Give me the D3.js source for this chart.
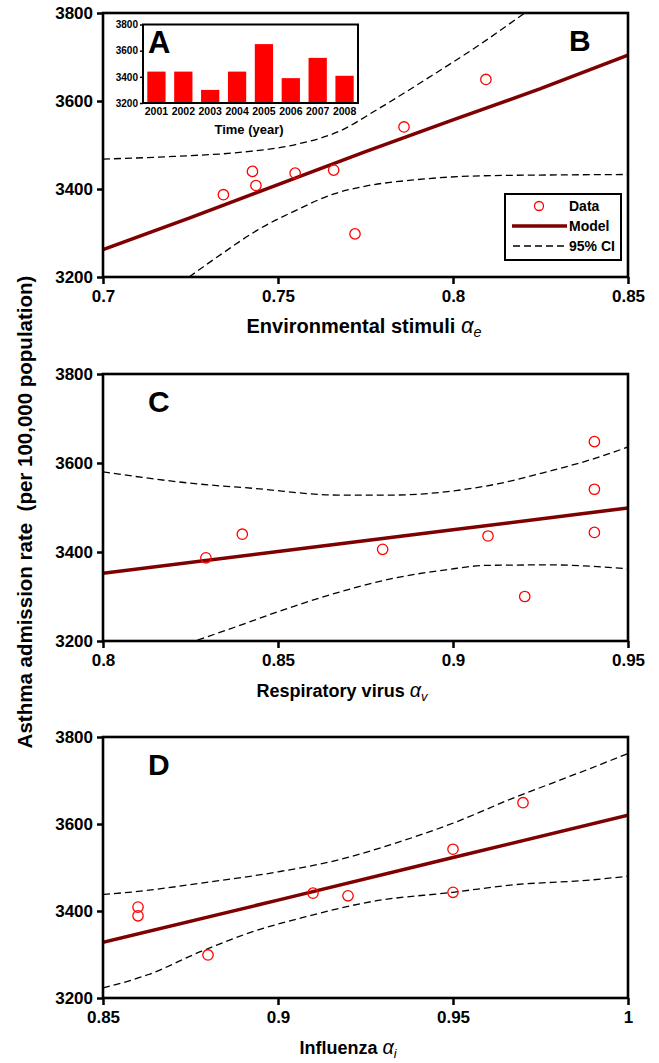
<!DOCTYPE html>
<html><head><meta charset="utf-8">
<script src="https://cdn.jsdelivr.net/npm/d3@7/dist/d3.min.js"></script>
<style>
body{margin:0;background:#fff;}
text{font-family:"Liberation Sans",Arial,Helvetica,sans-serif;font-weight:bold;fill:#000;}
</style></head>
<body><svg id="chart" width="659" height="1063"></svg>
<script>
// ---------- DATA ----------
const insetYears = ["2001","2002","2003","2004","2005","2006","2007","2008"];
const insetRates = [3440,3440,3300,3440,3650,3390,3545,3408];
const insetTicks = [3200,3400,3600,3800];
const yTicks = [3200,3400,3600,3800];

// Panel B: environmental stimuli
const envTicks = [0.7,0.75,0.8,0.85];
const envTickLabels = ["0.7","0.75","0.8","0.85"];
const envDataX = [0.7344,0.7427,0.7437,0.7549,0.7659,0.772,0.786,0.8094];
const envDataY = [3387,3440,3408,3436,3443,3298,3541,3649];
const envModelX = [0.70,0.725,0.75,0.775,0.80,0.825,0.85];
const envModelY = [3262,3335,3410,3485,3557,3628,3704];
const envUpX = [0.70,0.72,0.74,0.755,0.768,0.778,0.794,0.808,0.82,0.822];
const envUpY = [3468,3474,3484,3501,3533,3579,3658,3730,3797,3808];
const envLoX = [0.7246,0.734,0.744,0.755,0.766,0.776,0.788,0.808,0.83,0.85];
const envLoY = [3200,3253,3306,3351,3389,3408,3420,3430,3432,3433];

// Panel C: respiratory virus
const virTicks = [0.8,0.85,0.9,0.95];
const virTickLabels = ["0.8","0.85","0.9","0.95"];
const virDataX = [0.8294,0.8398,0.8799,0.91,0.9205,0.9404,0.9404,0.9404];
const virDataY = [3387,3440,3406,3436,3300,3648,3541,3444];
const virModelX = [0.80,0.85,0.90,0.95];
const virModelY = [3352,3401,3450,3499];
const virUpX = [0.80,0.827,0.843,0.867,0.883,0.9008,0.9127,0.9277,0.9396,0.95];
const virUpY = [3580,3553,3543,3528,3528,3538,3553,3582,3608,3636];
const virLoX = [0.827,0.838,0.853,0.868,0.883,0.898,0.9097,0.9277,0.9396,0.95];
const virLoY = [3202,3232,3274,3311,3341,3360,3370,3371,3368,3362];

// Panel D: influenza
const fluTicks = [0.85,0.9,0.95,1.0];
const fluTickLabels = ["0.85","0.9","0.95","1"];
const fluDataX = [0.86,0.86,0.88,0.91,0.92,0.95,0.95,0.97];
const fluDataY = [3409,3389,3299,3441,3435,3542,3443,3649];
const fluModelX = [0.85,0.90,0.95,1.0];
const fluModelY = [3328,3425,3523,3620];
const fluUpX = [0.85,0.86,0.878,0.90,0.917,0.932,0.951,0.967,0.978,0.989,1.0];
const fluUpY = [3438,3445,3464,3490,3517,3552,3605,3659,3693,3727,3762];
const fluLoX = [0.85,0.863,0.878,0.893,0.908,0.927,0.95,0.967,0.989,1.0];
const fluLoY = [3223,3254,3307,3353,3387,3422,3443,3460,3471,3480];

// ---------- DRAW ----------
const svg = d3.select("#chart");
const X0 = 103, X1 = 628;
const DARKRED = "#7f0000";

function zip(xs, ys){ return xs.map((x,i)=>[x, ys[i]]); }

function panel(cfg){
  const x = d3.scaleLinear().domain(cfg.xDomain).range([X0, X1]);
  const y = d3.scaleLinear().domain([3200,3800]).range([cfg.bottom, cfg.top]);
  const g = svg.append("g");
  const clipId = "clip" + cfg.letter;
  g.append("clipPath").attr("id", clipId).append("rect")
    .attr("x", X0).attr("y", cfg.top).attr("width", X1-X0).attr("height", cfg.bottom-cfg.top);
  const plot = g.append("g").attr("clip-path", `url(#${clipId})`);
  const line = d3.line().x(d=>x(d[0])).y(d=>y(d[1])).curve(d3.curveMonotoneX);
  [cfg.up, cfg.lo].forEach(pts=>{
    plot.append("path").attr("d", line(pts)).attr("fill","none")
      .attr("stroke","#000").attr("stroke-width",1.3).attr("stroke-dasharray","7,4");
  });
  plot.append("path").attr("d", d3.line().x(d=>x(d[0])).y(d=>y(d[1]))(cfg.model)).attr("fill","none")
    .attr("stroke",DARKRED).attr("stroke-width",3.5);
  g.selectAll("circle.pt").data(cfg.data).join("circle").attr("class","pt")
    .attr("cx",d=>x(d[0])).attr("cy",d=>y(d[1])).attr("r",5.2)
    .attr("fill","none").attr("stroke","#ff0000").attr("stroke-width",1.3);

  // axes
  const ya = d3.axisLeft(y).tickValues(yTicks).tickSize(6).tickPadding(4).tickFormat(d3.format("d"));
  const yg = g.append("g").attr("transform",`translate(${X0},0)`).call(ya);
  const xa = d3.axisBottom(x).tickValues(cfg.ticks).tickSize(7).tickPadding(6)
    .tickFormat((d,i)=>cfg.tickLabels[i]);
  const xg = g.append("g").attr("transform",`translate(0,${cfg.bottom})`).call(xa);
  [yg,xg].forEach(a=>{
    a.select(".domain").remove();
    a.selectAll(".tick line").attr("stroke","#000").attr("stroke-width",2.5);
    a.selectAll(".tick text").style("font-size","17px").style("font-weight","bold")
      .style("font-family","'Liberation Sans',Arial,sans-serif").attr("fill","#000");
  });
  // frame
  g.append("rect").attr("x",X0).attr("y",cfg.top).attr("width",X1-X0).attr("height",cfg.bottom-cfg.top)
    .attr("fill","none").attr("stroke","#000").attr("stroke-width",2.6);
  // letter
  g.append("text").attr("x",cfg.letterX).attr("y",cfg.top+38).text(cfg.letter)
    .style("font-size","30px");
  // x title
  const fs = cfg.titleSize;
  const t = g.append("text").attr("x",cfg.titleX).attr("y",cfg.bottom+56)
    .attr("text-anchor","middle").style("font-size",fs+"px");
  t.append("tspan").text(cfg.title + " ");
  t.append("tspan").text("α").style("font-style","italic").style("font-weight","normal").style("font-size",(fs*1.1)+"px");
  t.append("tspan").text(cfg.sub).attr("dy",4).style("font-style","italic").style("font-weight","normal").style("font-size",(fs*0.72)+"px");
  return {x,y,g};
}

panel({letter:"B", letterX:569, top:13, bottom:277, xDomain:[0.7,0.85], ticks:envTicks, tickLabels:envTickLabels,
  data:zip(envDataX,envDataY), model:zip(envModelX,envModelY), up:zip(envUpX,envUpY), lo:zip(envLoX,envLoY),
  title:"Environmental stimuli", sub:"e", titleX:364, titleSize:20});
panel({letter:"C", letterX:148, top:374, bottom:641, xDomain:[0.8,0.95], ticks:virTicks, tickLabels:virTickLabels,
  data:zip(virDataX,virDataY), model:zip(virModelX,virModelY), up:zip(virUpX,virUpY), lo:zip(virLoX,virLoY),
  title:"Respiratory virus", sub:"v", titleX:342, titleSize:18});
panel({letter:"D", letterX:148, top:737, bottom:998, xDomain:[0.85,1.0], ticks:fluTicks, tickLabels:fluTickLabels,
  data:zip(fluDataX,fluDataY), model:zip(fluModelX,fluModelY), up:zip(fluUpX,fluUpY), lo:zip(fluLoX,fluLoY),
  title:"Influenza", sub:"i", titleX:348, titleSize:18});

// y-axis title
svg.append("text").attr("transform","translate(32,512) rotate(-90)").attr("text-anchor","middle")
  .style("font-size","20.5px").style("white-space","pre")
  .text("Asthma admission rate  (per 100,000 population)");

// legend (panel B)
const lg = svg.append("g");
lg.append("rect").attr("x",505).attr("y",194).attr("width",116).attr("height",66)
  .attr("fill","#fff").attr("stroke","#000").attr("stroke-width",2);
lg.append("circle").attr("cx",539).attr("cy",206).attr("r",4.5).attr("fill","none").attr("stroke","#ff0000").attr("stroke-width",1.3);
lg.append("line").attr("x1",512).attr("x2",567).attr("y1",226).attr("y2",226).attr("stroke",DARKRED).attr("stroke-width",3.5);
lg.append("line").attr("x1",513).attr("x2",567).attr("y1",246).attr("y2",246).attr("stroke","#000").attr("stroke-width",1.5).attr("stroke-dasharray","7,4");
[["Data",211],["Model",231],["95% CI",251]].forEach(([s,yy])=>{
  lg.append("text").attr("x",569).attr("y",yy).text(s).style("font-size","14px");
});

// inset A
const ix = d3.scaleBand().domain(insetYears).range([143,358]).paddingInner(0.32).paddingOuter(0.16);
const iy = d3.scaleLinear().domain([3200,3800]).range([103,24.5]);
const ig = svg.append("g");
ig.append("rect").attr("x",143).attr("y",24.5).attr("width",215).attr("height",78.5).attr("fill","#fff");
ig.selectAll("rect.bar").data(insetRates).join("rect").attr("class","bar")
  .attr("x",(d,i)=>ix(insetYears[i])).attr("width",ix.bandwidth())
  .attr("y",d=>iy(d)).attr("height",d=>iy(3200)-iy(d)).attr("fill","#ff0000");
const iya = ig.append("g").attr("transform","translate(143,0)")
  .call(d3.axisLeft(iy).tickValues(insetTicks).tickSize(3).tickPadding(2).tickFormat(d3.format("d")));
iya.select(".domain").remove();
iya.selectAll(".tick line").attr("stroke","#000").attr("stroke-width",1.5);
iya.selectAll(".tick text").style("font-size","10px").style("font-weight","bold").attr("fill","#000")
  .style("font-family","'Liberation Sans',Arial,sans-serif");
const ixa = ig.append("g").attr("transform","translate(0,103)")
  .call(d3.axisBottom(ix).tickSize(0).tickPadding(5));
ixa.select(".domain").remove();
ixa.selectAll(".tick text").style("font-size","10.5px").style("font-weight","bold").attr("fill","#000")
  .style("font-family","'Liberation Sans',Arial,sans-serif");
ig.append("rect").attr("x",143).attr("y",24.5).attr("width",215).attr("height",78.5)
  .attr("fill","none").attr("stroke","#000").attr("stroke-width",2);
ig.append("text").attr("x",249).attr("y",134).attr("text-anchor","middle").style("font-size","13px").text("Time (year)");
ig.append("text").attr("x",148).attr("y",53).style("font-size","31px").text("A");
</script></body></html>
